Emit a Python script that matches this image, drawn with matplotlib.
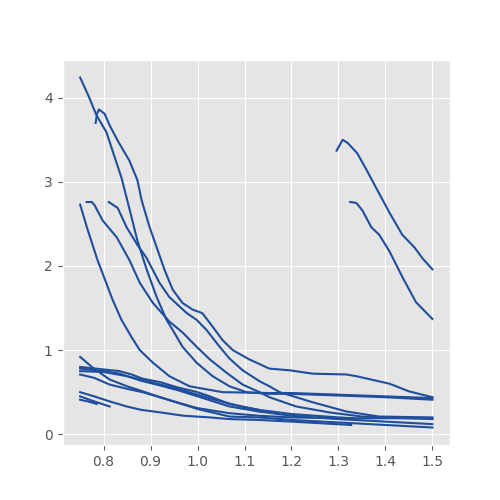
import numpy as np
import matplotlib
matplotlib.use("Agg")
import matplotlib.pyplot as plt

plt.style.use("ggplot")

# curves: (x list, y list)
xA = [0.75, 0.768, 0.785, 0.806, 0.819, 0.838, 0.855, 0.872, 0.891, 0.913, 0.934, 0.947, 0.968, 0.998, 1.032, 1.068, 1.104, 1.153, 1.2, 1.3, 1.4, 1.5]
yA = [4.24, 4.02, 3.79, 3.59, 3.37, 3.05, 2.68, 2.30, 1.97, 1.63, 1.36, 1.24, 1.04, 0.85, 0.69, 0.57, 0.50, 0.48, 0.48, 0.46, 0.44, 0.41]

xB = [0.783, 0.786, 0.79, 0.802, 0.813, 0.83, 0.855, 0.872, 0.881, 0.898, 0.915, 0.93, 0.947, 0.968, 0.99, 1.01, 1.032, 1.053, 1.075, 1.11, 1.153, 1.196, 1.245, 1.317, 1.338, 1.409, 1.45, 1.5]
yB = [3.70, 3.81, 3.86, 3.81, 3.67, 3.49, 3.25, 3.02, 2.78, 2.46, 2.19, 1.95, 1.72, 1.56, 1.48, 1.44, 1.28, 1.12, 1.0, 0.89, 0.78, 0.76, 0.72, 0.71, 0.69, 0.60, 0.51, 0.44]

xC = [0.75, 0.765, 0.787, 0.80, 0.819, 0.838, 0.86, 0.877, 0.905, 0.94, 0.983, 1.053, 1.153, 1.2, 1.3, 1.4, 1.5]
yC = [2.73, 2.45, 2.07, 1.88, 1.6, 1.36, 1.15, 1.0, 0.85, 0.69, 0.57, 0.50, 0.49, 0.49, 0.47, 0.45, 0.43]

xD = [0.764, 0.775, 0.781, 0.798, 0.828, 0.855, 0.877, 0.905, 0.94, 0.968, 0.998, 1.026, 1.062, 1.096, 1.132, 1.153, 1.21, 1.28, 1.35, 1.5]
yD = [2.76, 2.76, 2.72, 2.54, 2.34, 2.07, 1.80, 1.56, 1.34, 1.21, 1.04, 0.89, 0.73, 0.59, 0.50, 0.44, 0.33, 0.26, 0.21, 0.18]

xE = [0.811, 0.83, 0.849, 0.872, 0.891, 0.905, 0.919, 0.94, 0.977, 0.998, 1.019, 1.047, 1.068, 1.096, 1.132, 1.153, 1.175, 1.245, 1.317, 1.387, 1.5]
yE = [2.76, 2.69, 2.46, 2.25, 2.10, 1.95, 1.80, 1.63, 1.44, 1.36, 1.24, 1.04, 0.90, 0.76, 0.63, 0.57, 0.50, 0.38, 0.27, 0.21, 0.20]

xF = [1.296, 1.309, 1.32, 1.34, 1.36, 1.383, 1.409, 1.436, 1.462, 1.479, 1.5]
yF = [3.37, 3.50, 3.46, 3.34, 3.14, 2.90, 2.63, 2.37, 2.22, 2.09, 1.96]

xG = [1.325, 1.338, 1.351, 1.37, 1.387, 1.409, 1.436, 1.465, 1.5]
yG = [2.76, 2.75, 2.66, 2.46, 2.37, 2.17, 1.87, 1.57, 1.37]

xH = [0.75, 0.777, 0.813, 0.85, 0.883, 0.92, 0.955, 1.0, 1.068, 1.13, 1.2, 1.3, 1.4, 1.5]
yH = [0.92, 0.79, 0.65, 0.57, 0.51, 0.44, 0.38, 0.31, 0.25, 0.22, 0.20, 0.19, 0.19, 0.19]

xI = [0.75, 0.8, 0.834, 0.86, 0.883, 0.92, 0.955, 1.0, 1.026, 1.068, 1.13, 1.2, 1.3, 1.33]
yI = [0.80, 0.77, 0.75, 0.71, 0.66, 0.62, 0.56, 0.50, 0.45, 0.36, 0.29, 0.24, 0.20, 0.19]

xJ = [0.75, 0.8, 0.834, 0.877, 0.92, 0.96, 1.0, 1.068, 1.13, 1.2, 1.3, 1.4, 1.5]
yJ = [0.78, 0.75, 0.72, 0.64, 0.58, 0.52, 0.45, 0.33, 0.27, 0.22, 0.18, 0.15, 0.12]

xK = [0.75, 0.8, 0.85, 0.9, 0.95, 1.0, 1.05, 1.1, 1.13]
yK = [0.75, 0.74, 0.69, 0.62, 0.55, 0.47, 0.39, 0.32, 0.29]

xL = [0.75, 0.78, 0.813, 0.85, 0.883, 0.92, 0.955, 1.0, 1.068, 1.13, 1.2, 1.3, 1.4, 1.5]
yL = [0.71, 0.67, 0.59, 0.54, 0.50, 0.44, 0.38, 0.30, 0.21, 0.20, 0.17, 0.14, 0.11, 0.08]

xM = [0.75, 0.78, 0.813, 0.849, 0.88, 0.92, 0.97, 1.026, 1.068, 1.13, 1.2, 1.327]
yM = [0.50, 0.45, 0.39, 0.33, 0.29, 0.26, 0.22, 0.20, 0.18, 0.17, 0.15, 0.11]

xN = [0.75, 0.78, 0.813]
yN = [0.45, 0.39, 0.33]

xO = [0.75, 0.77, 0.785]
yO = [0.41, 0.385, 0.36]

curves = [(xA, yA), (xB, yB), (xC, yC), (xD, yD), (xE, yE), (xF, yF), (xG, yG),
          (xH, yH), (xI, yI), (xJ, yJ), (xK, yK), (xL, yL), (xM, yM), (xN, yN), (xO, yO)]

fig, ax = plt.subplots(figsize=(5, 5), dpi=100)
for xs, ys in curves:
    ax.plot(xs, ys, color="#1f4e9c", lw=1.5)

plt.savefig("out.png")
